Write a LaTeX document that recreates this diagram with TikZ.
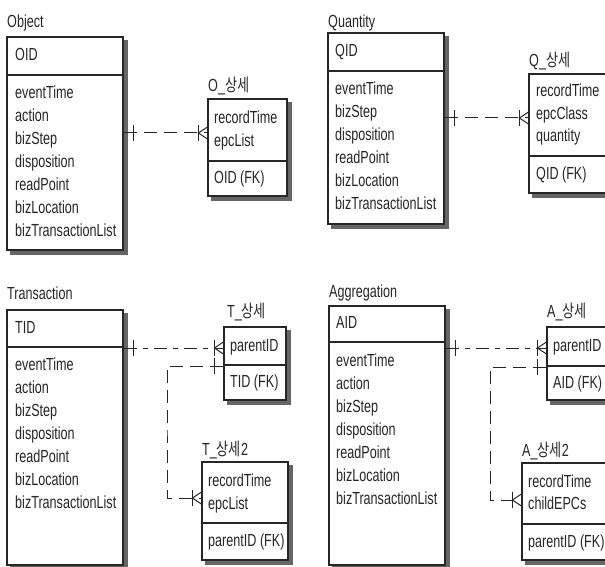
\documentclass[tikz,border=0pt]{standalone}
\usepackage{fontspec}
\setmainfont[FakeStretch=0.72]{Liberation Sans}
\newfontfamily\krfont[FakeStretch=0.75]{Noto Sans CJK KR}
\usetikzlibrary{fit,backgrounds,calc}

\tikzset{
  ink/.style={draw=black!85, line width=1.2pt},
  ebox/.style={ink, fill=white, inner sep=0pt},
  eshadow/.style={fill=black!60},
  txt/.style={anchor=west, inner sep=0pt, text height=12.5pt, text depth=3.5pt,
    font=\fontsize{17.5}{19}\selectfont, text=black!85},
  rel/.style={draw=black!85, line width=1pt, dash pattern=on 13pt off 7pt},
  reldot/.style={draw=black!85, line width=1pt, dash pattern=on 13pt off 6pt on 5pt off 6pt},
  relmark/.style={draw=black!85, line width=1pt},
}

% entity box: name, x0, y0, x1, y1, y of the key separator
\newcommand\erentity[6]{%
  \node[ebox, fit={(#2,#3) (#4,#5)}] (#1) {};
  \begin{scope}[on background layer]
    \fill[eshadow] ($(#1.south west)+(4,4)$) rectangle ($(#1.north east)+(4,4)$);
  \end{scope}
  \draw[ink] (#1.west |- 0,#6) -- (#1.east |- 0,#6);
}
% "one" bar at a distance from a point
\newcommand\barat[2]{\draw[relmark] ($(#1)+(#2,-8)$) -- ($(#1)+(#2,8)$);}
% "one or many" crow's foot ending at a point on a box's left side
\newcommand\crowat[1]{%
  \draw[relmark] ($(#1)+(-9,-8)$) -- ($(#1)+(-9,8)$);
  \draw[relmark] ($(#1)+(0,-6)$) -- ($(#1)+(-9,0)$) -- ($(#1)+(0,6)$);
}

\begin{document}
\begin{tikzpicture}[x=1pt, y=-1pt]
\begin{scope}[on background layer]
  \fill[white] (0,0) rectangle (605,567);
\end{scope}
\useasboundingbox (0,0) rectangle (605,567);

% ---------- Object ----------
\erentity{obj}{7}{37}{123}{250}{75}
\node[txt] (obj-t) at (7,23) {Object};
\node[txt] (obj-k) at (15,56) {OID};
\node[txt] (obj-a1) at (15,94) {eventTime};
\node[txt] (obj-a2) at (15,117) {action};
\node[txt] (obj-a3) at (15,140) {bizStep};
\node[txt] (obj-a4) at (15,163) {disposition};
\node[txt] (obj-a5) at (15,186) {readPoint};
\node[txt] (obj-a6) at (15,209) {bizLocation};
\node[txt] (obj-a7) at (15,232) {bizTransactionList};

\erentity{od}{208}{99}{287}{196}{161}
\node[txt] (od-t) at (208,87) {O\_{\krfont 상세}};
\node[txt] (od-a1) at (214,119) {recordTime};
\node[txt] (od-a2) at (214,142) {epcList};
\node[txt] (od-k) at (214,179) {OID (FK)};

% ---------- Quantity ----------
\erentity{qty}{328}{33}{444}{224}{71}
\node[txt] (qty-t) at (328,23) {Quantity};
\node[txt] (qty-k) at (335,52) {QID};
\node[txt] (qty-a1) at (335,90) {eventTime};
\node[txt] (qty-a2) at (335,113) {bizStep};
\node[txt] (qty-a3) at (335,136) {disposition};
\node[txt] (qty-a4) at (335,159) {readPoint};
\node[txt] (qty-a5) at (335,182) {bizLocation};
\node[txt] (qty-a6) at (335,205) {bizTransactionList};

\erentity{qd}{529}{74}{620}{193}{156}
\node[txt] (qd-t) at (529,62) {Q\_{\krfont 상세}};
\node[txt] (qd-a1) at (536,92) {recordTime};
\node[txt] (qd-a2) at (536,115) {epcClass};
\node[txt] (qd-a3) at (536,137) {quantity};
\node[txt] (qd-k) at (536,175) {QID (FK)};

% ---------- Transaction ----------
\erentity{tr}{7}{310}{123}{565}{347}
\node[txt] (tr-t) at (7,295) {Transaction};
\node[txt] (tr-k) at (15,329) {TID};
\node[txt] (tr-a1) at (15,366) {eventTime};
\node[txt] (tr-a2) at (15,389) {action};
\node[txt] (tr-a3) at (15,412) {bizStep};
\node[txt] (tr-a4) at (15,435) {disposition};
\node[txt] (tr-a5) at (15,458) {readPoint};
\node[txt] (tr-a6) at (15,481) {bizLocation};
\node[txt] (tr-a7) at (15,504) {bizTransactionList};

\erentity{td}{224}{327}{286}{400}{365}
\node[txt] (td-t) at (227,313) {T\_{\krfont 상세}};
\node[txt] (td-a1) at (230,347) {parentID};
\node[txt] (td-k) at (230,383) {TID (FK)};

\erentity{tdd}{202}{462}{288}{560}{523}
\node[txt] (tdd-t) at (202,451) {T\_{\krfont 상세}2};
\node[txt] (tdd-a1) at (208,482) {recordTime};
\node[txt] (tdd-a2) at (208,505) {epcList};
\node[txt] (tdd-k) at (208,542) {parentID (FK)};

% ---------- Aggregation ----------
\erentity{ag}{329}{306}{445}{565}{342}
\node[txt] (ag-t) at (329,293) {Aggregation};
\node[txt] (ag-k) at (336,324) {AID};
\node[txt] (ag-a1) at (336,362) {eventTime};
\node[txt] (ag-a2) at (336,385) {action};
\node[txt] (ag-a3) at (336,408) {bizStep};
\node[txt] (ag-a4) at (336,431) {disposition};
\node[txt] (ag-a5) at (336,454) {readPoint};
\node[txt] (ag-a6) at (336,477) {bizLocation};
\node[txt] (ag-a7) at (336,500) {bizTransactionList};

\erentity{ad}{547}{327}{620}{400}{366}
\node[txt] (ad-t) at (547,313) {A\_{\krfont 상세}};
\node[txt] (ad-a1) at (553,347) {parentID};
\node[txt] (ad-k) at (553,384) {AID (FK)};

\erentity{add}{522}{463}{620}{560}{524}
\node[txt] (add-t) at (522,452) {A\_{\krfont 상세}2};
\node[txt] (add-a1) at (528,483) {recordTime};
\node[txt] (add-a2) at (528,505) {childEPCs};
\node[txt] (add-k) at (528,543) {parentID (FK)};

% ---------- relationships ----------
\coordinate (r1a) at (obj.east |- 0,133);
\coordinate (r1b) at (od.west |- 0,133);
\draw[rel] (r1a) -- (r1b);
\barat{r1a}{10} \crowat{r1b}

\coordinate (r2a) at (qty.east |- 0,118);
\coordinate (r2b) at (qd.west |- 0,118);
\draw[rel] (r2a) -- (r2b);
\barat{r2a}{10} \crowat{r2b}

\coordinate (r3a) at (tr.east |- 0,348);
\coordinate (r3b) at (td.west |- 0,348);
\draw[reldot] (r3a) -- (r3b);
\barat{r3a}{10} \crowat{r3b}

\coordinate (r4a) at (td.west |- 0,366);
\coordinate (r4c) at (167,430);
\coordinate (r4b) at (tdd.west |- 0,498);
\draw[rel] (r4a) -| (r4c) |- (r4b);
\barat{r4a}{-9} \crowat{r4b}

\coordinate (r5a) at (ag.east |- 0,348);
\coordinate (r5b) at (ad.west |- 0,348);
\draw[reldot] (r5a) -- (r5b);
\barat{r5a}{10} \crowat{r5b}

\coordinate (r6a) at (ad.west |- 0,367);
\coordinate (r6c) at (490,430);
\coordinate (r6b) at (add.west |- 0,500);
\draw[rel] (r6a) -| (r6c) |- (r6b);
\barat{r6a}{-9} \crowat{r6b}
\end{tikzpicture}
\end{document}
